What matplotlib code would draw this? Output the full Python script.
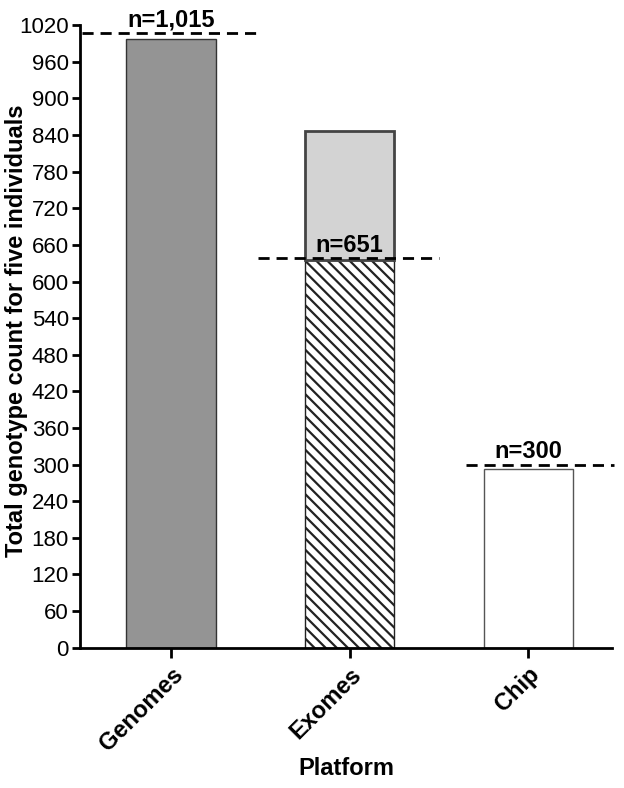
import matplotlib
matplotlib.use("Agg")
import matplotlib.pyplot as plt

plt.rcParams['font.family'] = ['Liberation Sans', 'DejaVu Sans']
plt.rcParams['hatch.linewidth'] = 1.6

# data
platforms = ['Genomes', 'Exomes', 'Chip']
base_counts = [997, 635, 293]
extra_counts = [0, 212, 0]
n_lines = [1007, 638, 300]
n_labels = ['n=1,015', 'n=651', 'n=300']
line_spans = [(-0.5, 0.49), (-0.51, 0.5), (-0.35, 0.48)]

fig = plt.figure(figsize=(6.24, 7.88), dpi=100)
ax = fig.add_axes([0.128, 0.178, 0.853, 0.79])

x = list(range(len(platforms)))
ax.bar(x[0], base_counts[0], width=0.5, color='#949494', edgecolor='#333333', linewidth=1)
ax.bar(x[1], base_counts[1], width=0.5, color='white', edgecolor='#222222',
       hatch='\\\\\\', linewidth=1)
ax.bar(x[1], extra_counts[1], bottom=base_counts[1], width=0.5, color='#d3d3d3',
       edgecolor='#444444', linewidth=2)
ax.bar(x[2], base_counts[2], width=0.5, color='white', edgecolor='#555555', linewidth=1)

for i in x:
    x0, x1 = line_spans[i]
    ax.plot([i + x0, i + x1], [n_lines[i], n_lines[i]], color='black', lw=2,
            linestyle=(0, (4, 2.5)), clip_on=False, zorder=5)
    ax.text(i, n_lines[i] + 2, n_labels[i], ha='center', va='bottom',
            fontsize=17, fontweight='bold')

ax.set_xlim(-0.51, 2.47)
ax.set_ylim(0, 1020)
ax.set_yticks(range(0, 1021, 60))
ax.set_xticks(x)
ax.set_xticklabels(platforms, rotation=45, ha='right', rotation_mode='anchor',
                   fontsize=17, fontweight='bold')
ax.tick_params(axis='y', labelsize=16, width=2, length=6, pad=2)
ax.tick_params(axis='x', width=2, length=7, pad=4)
for s in ['top', 'right']:
    ax.spines[s].set_visible(False)
for s in ['left', 'bottom']:
    ax.spines[s].set_linewidth(2)

ax.set_ylabel('Total genotype count for five individuals', fontsize=17,
              fontweight='bold')
ax.yaxis.set_label_coords(-0.097, 0.51)
ax.set_xlabel('Platform', fontsize=17, fontweight='bold')
ax.xaxis.set_label_coords(0.5, -0.176)

fig.savefig('out.png', dpi=100)
